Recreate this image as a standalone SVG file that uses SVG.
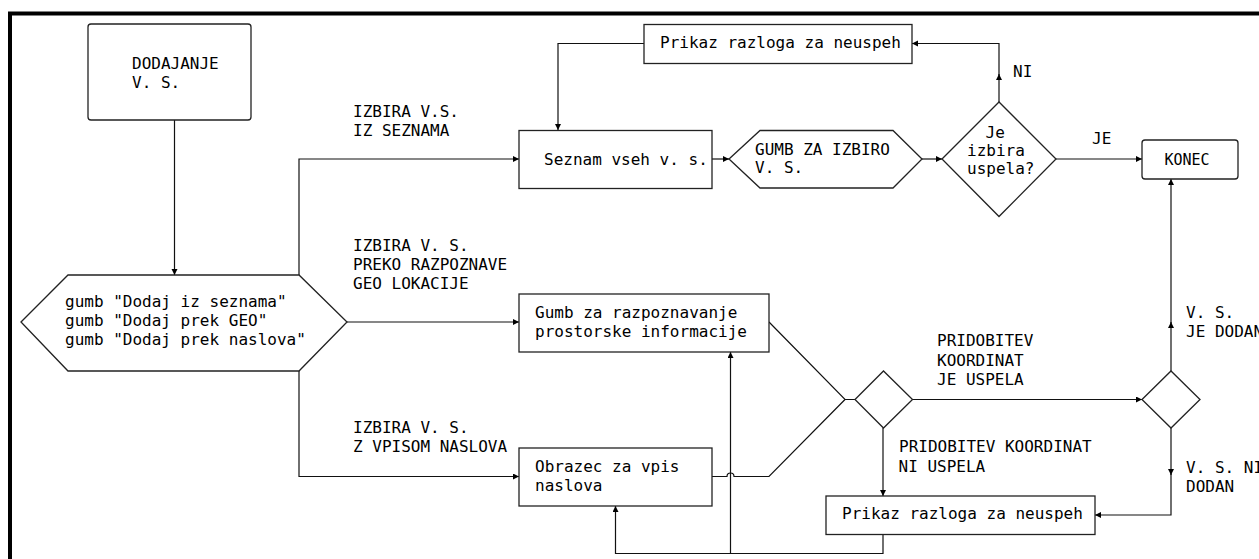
<svg xmlns="http://www.w3.org/2000/svg" width="1259" height="559" viewBox="0 0 1259 559">
  <style>
    text { font-family: "DejaVu Sans Mono", "Liberation Mono", monospace; font-size: 16px; fill: #000; }
    .box { fill: #fff; stroke: #222; stroke-width: 1.3; }
    .edge { fill: none; stroke: #111; stroke-width: 1.2; }
    .arr { marker-end: url(#ah); }
  </style>
  <defs>
    <marker id="ah" markerUnits="userSpaceOnUse" markerWidth="7" markerHeight="7" refX="6" refY="3" orient="auto">
      <path d="M0,0 L6,3 L0,6 z" fill="#000"/>
    </marker>
  </defs>

  <rect width="1259" height="559" fill="#fff"/>
  <!-- outer frame -->
  <rect x="10" y="13.5" width="1300" height="600" fill="none" stroke="#000" stroke-width="4"/>

  <g id="connectors">
    <!-- start -> buttons -->
    <path class="edge arr" d="M174.5,120 V275"/>
    <!-- buttons -> list -->
    <path class="edge arr" d="M299,275 V159 H519"/>
    <!-- buttons -> geo -->
    <path class="edge arr" d="M347,322 H519"/>
    <!-- buttons -> address form -->
    <path class="edge arr" d="M299,371 V476.5 H519"/>
    <!-- list -> select button -->
    <path class="edge arr" d="M712,159 H729"/>
    <!-- select button -> decision -->
    <path class="edge arr" d="M922,159 H942"/>
    <!-- decision -> end -->
    <path class="edge arr" d="M1056,159 H1142"/>
    <!-- decision -> failure (top) -->
    <path class="edge arr" d="M999,102 V74"/>
    <path class="edge arr" d="M999,76 V43.5 H912"/>
    <!-- failure (top) -> list -->
    <path class="edge arr" d="M644,43.5 H558 V130"/>
    <!-- geo and form merge into coordinate decision -->
    <path class="edge" d="M769,322 L845,399.5 H855"/>
    <path class="edge" d="M712,476.5 H727 A3.5,3.5 0 0 1 734,476.5 H769 L845,399.5"/>
    <!-- coordinates ok -> second decision -->
    <path class="edge arr" d="M912,399.5 H1142"/>
    <!-- coordinates failed -> failure (bottom) -->
    <path class="edge arr" d="M883,428 V496"/>
    <!-- second decision -> end -->
    <path class="edge arr" d="M1171,371 V322"/>
    <path class="edge arr" d="M1171,324 V179"/>
    <!-- second decision -> failure (bottom) -->
    <path class="edge arr" d="M1171,428 V475"/>
    <path class="edge arr" d="M1171,473 V515 H1095"/>
    <!-- failure (bottom) -> back to inputs -->
    <path class="edge arr" d="M883,534 V553.5 H615.5 V506"/>
    <path class="edge arr" d="M730.5,553.5 V352"/>
  </g>

  <g id="start">
    <rect class="box" x="88" y="24" width="163" height="96" rx="3"/>
    <text x="132" y="68.5">DODAJANJE</text>
    <text x="132" y="87.5">V. S.</text>
  </g>

  <g id="buttons">
    <polygon class="box" points="21,322 68,275 299,275 347,322 299,371 68,371"/>
    <text x="65" y="307">gumb "Dodaj iz seznama"</text>
    <text x="65" y="326">gumb "Dodaj prek GEO"</text>
    <text x="65" y="345">gumb "Dodaj prek naslova"</text>
  </g>

  <g id="list">
    <rect class="box" x="519" y="130.5" width="193" height="58"/>
    <text x="544" y="164.5">Seznam vseh v. s.</text>
  </g>

  <g id="select-button">
    <polygon class="box" points="729,159 760,130.5 893,130.5 922,159 893,188 760,188"/>
    <text x="755" y="154.5">GUMB ZA IZBIRO</text>
    <text x="755" y="173">V. S.</text>
  </g>

  <g id="selection-ok">
    <polygon class="box" points="942,159 999,102 1056,159 999,216.5"/>
    <text x="985.5" y="137.5">Je</text>
    <text x="967" y="155.5">izbira</text>
    <text x="967" y="173.5">uspela?</text>
  </g>

  <g id="failure-top">
    <rect class="box" x="644" y="24.5" width="268" height="39"/>
    <text x="660" y="48.3">Prikaz razloga za neuspeh</text>
  </g>

  <g id="end">
    <rect class="box" x="1142" y="140" width="96" height="39" rx="3"/>
    <text x="1187" y="164.5" text-anchor="middle" style="font-size:15px">KONEC</text>
  </g>

  <g id="geo">
    <rect class="box" x="519" y="294" width="250" height="58"/>
    <text x="535" y="318">Gumb za razpoznavanje</text>
    <text x="535" y="337">prostorske informacije</text>
  </g>

  <g id="address-form">
    <rect class="box" x="519" y="448" width="193" height="58"/>
    <text x="535" y="472">Obrazec za vpis</text>
    <text x="535" y="491">naslova</text>
  </g>

  <g id="coords-ok">
    <polygon class="box" points="855,399.5 883.5,371 912.5,399.5 883.5,428"/>
  </g>

  <g id="added-ok">
    <polygon class="box" points="1142,399.5 1171,371 1200,399.5 1171,428"/>
  </g>

  <g id="failure-bottom">
    <rect class="box" x="826" y="496" width="269" height="38.5"/>
    <text x="842" y="519.3">Prikaz razloga za neuspeh</text>
  </g>

  <g id="labels">
    <text x="353" y="117">IZBIRA V.S.</text>
    <text x="353" y="136">IZ SEZNAMA</text>
    <text x="353" y="251">IZBIRA V. S.</text>
    <text x="353" y="270">PREKO RAZPOZNAVE</text>
    <text x="353" y="289">GEO LOKACIJE</text>
    <text x="353" y="433">IZBIRA V. S.</text>
    <text x="353" y="452">Z VPISOM NASLOVA</text>
    <text x="1013" y="77">NI</text>
    <text x="1092" y="144">JE</text>
    <text x="937" y="346">PRIDOBITEV</text>
    <text x="937" y="365.5">KOORDINAT</text>
    <text x="937" y="385">JE USPELA</text>
    <text x="899" y="452">PRIDOBITEV KOORDINAT</text>
    <text x="898.5" y="471.5">NI USPELA</text>
    <text x="1186" y="318">V. S.</text>
    <text x="1186" y="337">JE DODAN</text>
    <text x="1186" y="473">V. S. NI</text>
    <text x="1186" y="492">DODAN</text>
  </g>
</svg>
